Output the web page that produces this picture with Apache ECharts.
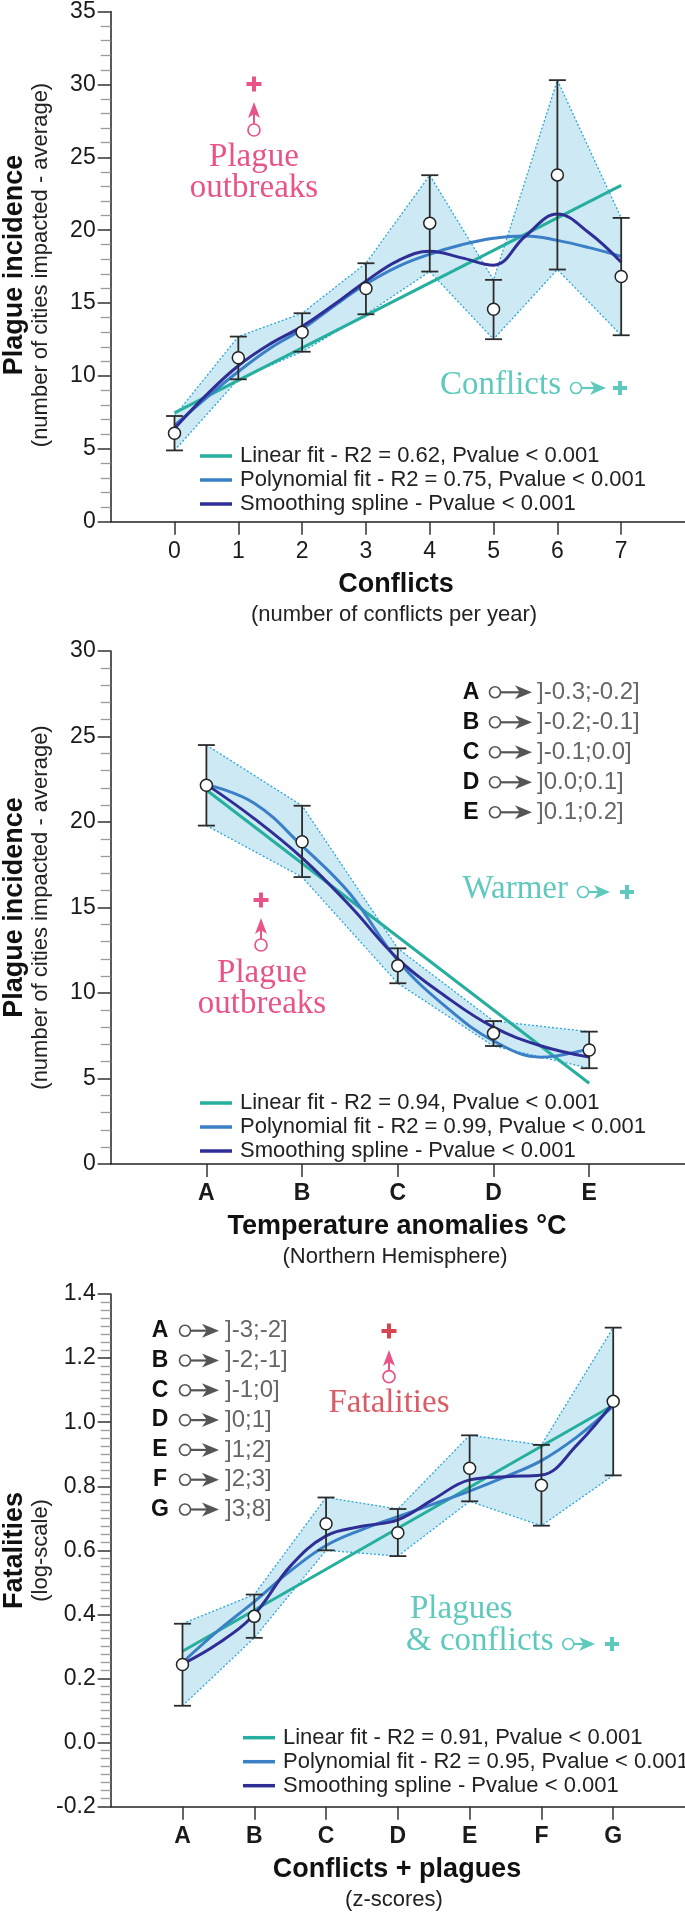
<!DOCTYPE html>
<html><head><meta charset="utf-8">
<script src="https://cdn.jsdelivr.net/npm/echarts@6/dist/echarts.min.js"></script>
<style>html,body{margin:0;padding:0;background:#fff}#c{width:685px;height:1912px}</style>
</head><body><div id="c"></div>
<script>
// ---------------- DATA ----------------
// Panel 1: conflicts
const conflictsX = [0, 1, 2, 3, 4, 5, 6, 7];
const conflictsMean = [6.07, 11.25, 13.0, 16.0, 20.48, 14.57, 23.79, 16.82];
const conflictsUpper = [7.25, 12.7, 14.3, 17.73, 23.77, 16.59, 30.29, 20.84];
const conflictsLower = [4.89, 9.77, 11.66, 14.23, 17.16, 12.52, 17.3, 12.79];
const conflictsLinX = [0, 7];
const conflictsLinY = [7.46, 23.07];
const conflictsFitX = [0, 0.5, 1, 1.5, 2, 2.5, 3, 3.5, 4, 4.5, 5, 5.5, 6, 6.5, 7];
const conflictsPoly = [6.6, 8.5, 10.3, 11.9, 13.2, 14.8, 16.3, 17.5, 18.35, 19.0, 19.45, 19.6, 19.3, 18.8, 18.2];
const conflictsSpline = [6.4, 8.7, 10.7, 12.2, 13.4, 14.9, 16.5, 17.9, 18.55, 18.1, 17.6, 19.6, 21.1, 19.8, 17.8];
const conflictsNames = ['Linear fit - R2 = 0.62, Pvalue < 0.001', 'Polynomial fit - R2 = 0.75, Pvalue < 0.001', 'Smoothing spline - Pvalue < 0.001'];

// Panel 2: temperature anomalies
const tempCats = ['A', 'B', 'C', 'D', 'E'];
const tempIntervals = [']-0.3;-0.2]', ']-0.2;-0.1]', ']-0.1;0.0]', ']0.0;0.1]', ']0.1;0.2]'];
const tempX = [0, 1, 2, 3, 4];
const tempMean = [22.15, 18.85, 11.6, 7.64, 6.67];
const tempUpper = [24.5, 20.95, 12.61, 8.36, 7.74];
const tempLower = [19.79, 16.78, 10.57, 6.9, 5.6];
const tempLinX = [0, 4];
const tempLinY = [21.87, 4.72];
const tempFitX = [0, 0.5, 1, 1.5, 2, 2.5, 3, 3.5, 4];
const tempPoly = [22.2, 21.1, 18.6, 15.8, 11.9, 9.2, 7.2, 6.25, 6.75];
const tempSpline = [22.2, 20.2, 17.9, 15.1, 12.0, 9.8, 8.0, 6.9, 6.25];
const tempNames = ['Linear fit - R2 = 0.94, Pvalue < 0.001', 'Polynomial fit - R2 = 0.99, Pvalue < 0.001', 'Smoothing spline - Pvalue < 0.001'];

// Panel 3: conflicts + plagues (z-scores)
const zCats = ['A', 'B', 'C', 'D', 'E', 'F', 'G'];
const zIntervals = [']-3;-2]', ']-2;-1]', ']-1;0]', ']0;1]', ']1;2]', ']2;3]', ']3;8]'];
const zX = [0, 1, 2, 3, 4, 5, 6];
const zMean = [0.244, 0.394, 0.683, 0.655, 0.856, 0.803, 1.065];
const zUpper = [0.371, 0.462, 0.765, 0.729, 0.959, 0.929, 1.295];
const zLower = [0.115, 0.327, 0.600, 0.582, 0.753, 0.677, 0.834];
const zLinX = [0, 6];
const zLinY = [0.285, 1.053];
const zFitX = [0, 0.5, 1, 1.5, 2, 2.5, 3, 3.5, 4, 4.5, 5, 5.5, 6];
const zPoly = [0.25, 0.35, 0.44, 0.535, 0.615, 0.665, 0.705, 0.745, 0.785, 0.83, 0.88, 0.955, 1.05];
const zSpline = [0.245, 0.31, 0.40, 0.55, 0.645, 0.675, 0.695, 0.76, 0.82, 0.83, 0.835, 0.93, 1.06];
const zNames = ['Linear fit - R2 = 0.91, Pvalue < 0.001', 'Polynomial fit - R2 = 0.95, Pvalue < 0.001', 'Smoothing spline - Pvalue < 0.001'];

// Axis titles
const axisTitles = [
  { x: 'Conflicts', xSub: '(number of conflicts per year)', y: 'Plague incidence', ySub: '(number of cities impacted - average)' },
  { x: 'Temperature anomalies °C', xSub: '(Northern Hemisphere)', y: 'Plague incidence', ySub: '(number of cities impacted - average)' },
  { x: 'Conflicts + plagues', xSub: '(z-scores)', y: 'Fatalities', ySub: '(log-scale)' }
];

// ---------------- STYLE ----------------
const FONT = "'Liberation Sans', Arial, Helvetica, sans-serif";
const SERIF = "'Liberation Serif', 'Times New Roman', serif";
const LIN = '#26ae9e', POLY = '#3b7fc6', SPL = '#2f2d96';
const BAND = '#cdeaf4', BANDEDGE = '#2aa6dd';
const PINK = '#e8548a', TEAL = '#5fc9be', REDTXT = '#d95d66', REDPLUS = '#d9454f';
const GREY = '#666', AX = '#222';

function panelSeries(gi, xs, mean, upper, lower, linX, linY, fitX, poly, spline, names) {
  return [
    { type: 'custom', xAxisIndex: gi, yAxisIndex: gi, z: 1, silent: true,
      data: [[xs[0], upper[0]]],
      renderItem: function (params, api) {
        const up = xs.map((x, i) => api.coord([x, upper[i]]));
        const lo = xs.map((x, i) => api.coord([x, lower[i]]));
        const pts = up.concat(lo.slice().reverse());
        return { type: 'group', children: [
          { type: 'polygon', shape: { points: pts }, style: { fill: BAND } },
          { type: 'polyline', shape: { points: up }, style: { fill: null, stroke: BANDEDGE, lineWidth: 1.3, lineDash: [2, 2] } },
          { type: 'polyline', shape: { points: lo }, style: { fill: null, stroke: BANDEDGE, lineWidth: 1.3, lineDash: [2, 2] } }
        ] };
      } },
    { type: 'line', name: names[0], xAxisIndex: gi, yAxisIndex: gi, z: 3, showSymbol: false, silent: true,
      data: linX.map((x, i) => [x, linY[i]]), lineStyle: { color: LIN, width: 3 }, itemStyle: { color: LIN } },
    { type: 'line', name: names[1], xAxisIndex: gi, yAxisIndex: gi, z: 3, showSymbol: false, silent: true, smooth: 0.4,
      data: fitX.map((x, i) => [x, poly[i]]), lineStyle: { color: POLY, width: 3 }, itemStyle: { color: POLY } },
    { type: 'line', name: names[2], xAxisIndex: gi, yAxisIndex: gi, z: 3, showSymbol: false, silent: true, smooth: 0.4,
      data: fitX.map((x, i) => [x, spline[i]]), lineStyle: { color: SPL, width: 3 }, itemStyle: { color: SPL } },
    { type: 'custom', xAxisIndex: gi, yAxisIndex: gi, z: 4, silent: true,
      data: xs.map((x, i) => [x, lower[i], upper[i]]),
      encode: { x: 0, y: [1, 2] },
      renderItem: function (params, api) {
        const x = api.value(0);
        const lo = api.coord([x, api.value(1)]);
        const hi = api.coord([x, api.value(2)]);
        const w = 8.5, st = { stroke: '#2b2b2b', lineWidth: 1.8 };
        return { type: 'group', children: [
          { type: 'line', shape: { x1: lo[0], y1: lo[1], x2: hi[0], y2: hi[1] }, style: st },
          { type: 'line', shape: { x1: lo[0] - w, y1: lo[1], x2: lo[0] + w, y2: lo[1] }, style: st },
          { type: 'line', shape: { x1: hi[0] - w, y1: hi[1], x2: hi[0] + w, y2: hi[1] }, style: st }
        ] };
      } },
    { type: 'scatter', xAxisIndex: gi, yAxisIndex: gi, z: 5, silent: true, symbolSize: 12,
      data: xs.map((x, i) => [x, mean[i]]),
      itemStyle: { color: '#fff', borderColor: '#222', borderWidth: 1.5, opacity: 1 } }
  ];
}

function xAxisDef(gi, min, max, ticks, fmt, bold) {
  return {
    gridIndex: gi, type: 'value', min: min, max: max, interval: 1,
    axisLine: { show: true, onZero: false, lineStyle: { color: AX, width: 1.5 } },
    axisTick: { show: true, length: 13, customValues: ticks, lineStyle: { color: '#333', width: 1.5 } },
    axisLabel: { customValues: ticks, formatter: fmt, margin: 18, fontSize: 23, fontFamily: FONT,
      fontWeight: bold ? 'bold' : 'normal', color: '#1a1a1a' },
    splitLine: { show: false }
  };
}
function yAxisDef(gi, min, max, interval, minorSplit, fmt) {
  return {
    gridIndex: gi, type: 'value', min: min, max: max, interval: interval,
    axisLine: { show: true, onZero: false, lineStyle: { color: AX, width: 1.5 } },
    axisTick: { show: true, length: 13, lineStyle: { color: '#333', width: 1.5 } },
    minorTick: { show: true, splitNumber: minorSplit, length: 10, lineStyle: { color: '#9a9a9a', width: 1.3 } },
    axisLabel: { formatter: fmt, margin: 15, fontSize: 23, fontFamily: FONT, color: '#1a1a1a' },
    splitLine: { show: false }, minorSplitLine: { show: false }
  };
}
function legendDef(left, top, names) {
  return { left: left, top: top, orient: 'vertical', itemWidth: 32, itemHeight: 3.5, itemGap: 0,
    selectedMode: false, textStyle: { fontSize: 22, lineHeight: 24, fontFamily: FONT, color: '#222', padding: [0, 0, 0, 3] },
    data: names.map(n => ({ name: n, icon: 'rect' })) };
}

// ---------- annotation helpers (graphic) ----------
const G = [];
function plus(x, y, s, w, color) {
  G.push({ type: 'rect', shape: { x: x - s / 2, y: y - w / 2, width: s, height: w }, style: { fill: color }, silent: true });
  G.push({ type: 'rect', shape: { x: x - w / 2, y: y - s / 2, width: w, height: s }, style: { fill: color }, silent: true });
}
function arrowUp(x, yc, ytip, color) {
  G.push({ type: 'circle', shape: { cx: x, cy: yc, r: 6 }, style: { fill: '#fff', stroke: color, lineWidth: 1.7 }, silent: true });
  G.push({ type: 'line', shape: { x1: x, y1: yc - 6, x2: x, y2: ytip + 9 }, style: { stroke: color, lineWidth: 2 }, silent: true });
  G.push({ type: 'polygon', shape: { points: [[x, ytip], [x + 6, ytip + 16], [x, ytip + 12], [x - 6, ytip + 16]] }, style: { fill: color }, silent: true });
}
function arrowRight(xc, y, xtip, color, r, hl, hh) {
  hl = hl || 15; hh = hh || 6.5;
  G.push({ type: 'circle', shape: { cx: xc, cy: y, r: r }, style: { fill: '#fff', stroke: color, lineWidth: 1.6 }, silent: true });
  G.push({ type: 'line', shape: { x1: xc + r, y1: y, x2: xtip - 8, y2: y }, style: { stroke: color, lineWidth: 2.2 }, silent: true });
  G.push({ type: 'polygon', shape: { points: [[xtip, y], [xtip - hl, y - hh], [xtip - hl * 0.72, y], [xtip - hl, y + hh]] }, style: { fill: color }, silent: true });
}
function txt(x, y, s, font, color, align, rot) {
  G.push({ type: 'text', x: x, y: y, rotation: rot || 0, silent: true,
    style: { text: s, font: font, fill: color, align: align || 'center', verticalAlign: 'middle' } });
}

// Axis titles (x: below axis; y: rotated at left)
const xTitlePos = [[396, 585, 394, 615], [397, 1226.7, 395, 1256.7], [397, 1870, 394, 1900]];
const yTitleMid = [265, 907.5, 1550.4];
axisTitles.forEach((t, i) => {
  const p = xTitlePos[i];
  txt(p[0], p[1], t.x, 'bold 27px ' + FONT, '#111');
  txt(p[2], p[3], t.xSub, '22px ' + FONT, '#222');
  txt(14.5, yTitleMid[i], t.y, 'bold 27px ' + FONT, '#111', 'center', Math.PI / 2);
  txt(41, yTitleMid[i], t.ySub, '22px ' + FONT, '#222', 'center', Math.PI / 2);
});

// Panel 1 annotations
plus(254, 84, 15, 4, PINK);
arrowUp(254, 130, 102, PINK);
txt(254, 157, 'Plague', '33px ' + SERIF, PINK);
txt(254, 188, 'outbreaks', '33px ' + SERIF, PINK);
txt(561, 385, 'Conflicts', '33px ' + SERIF, TEAL, 'right');
arrowRight(576, 388, 606, TEAL, 5.5, 16, 7);
plus(620, 388, 14, 4, TEAL);

// Panel 2 annotations
plus(261, 900, 15, 4, PINK);
arrowUp(261, 945, 918, PINK);
txt(262, 973, 'Plague', '33px ' + SERIF, PINK);
txt(262, 1004.5, 'outbreaks', '33px ' + SERIF, PINK);
txt(568, 889, 'Warmer', '33px ' + SERIF, TEAL, 'right');
arrowRight(583, 892, 610, TEAL, 5.5, 16, 7);
plus(627, 892, 14, 4, TEAL);
tempCats.forEach((c, i) => {
  const y = 692.3 + i * 30;
  txt(471, y, c, 'bold 23px ' + FONT, '#111');
  arrowRight(495, y, 532, '#555', 5.5, 17, 7);
  txt(537, y, tempIntervals[i], '24px ' + FONT, GREY, 'left');
});

// Panel 3 annotations
plus(389, 1331, 15, 4, REDPLUS);
arrowUp(389, 1376.7, 1350, PINK);
txt(389, 1403.3, 'Fatalities', '33px ' + SERIF, REDTXT);
txt(410, 1609, 'Plagues', '33px ' + SERIF, TEAL, 'left');
txt(406, 1641, '& conflicts', '33px ' + SERIF, TEAL, 'left');
arrowRight(568.3, 1644, 595, TEAL, 5.5, 16, 7);
plus(612, 1644, 14, 4, TEAL);
zCats.forEach((c, i) => {
  const y = 1330.7 + i * 29.8;
  txt(160, y, c, 'bold 23px ' + FONT, '#111');
  arrowRight(185, y, 219, '#555', 5.5, 17, 7);
  txt(225, y, zIntervals[i], '24px ' + FONT, GREY, 'left');
});

const option = {
  animation: false,
  backgroundColor: '#fff',
  grid: [
    { left: 110.7, top: 8.4, width: 580.5, height: 513.3 },
    { left: 110.7, top: 651, width: 574.2, height: 513 },
    { left: 110.7, top: 1294, width: 574.4, height: 512.7 }
  ],
  xAxis: [
    xAxisDef(0, -1, 8, conflictsX, v => String(v), false),
    xAxisDef(1, -1, 5, tempX, v => tempCats[v] || '', true),
    xAxisDef(2, -1, 7, zX, v => zCats[v] || '', true)
  ],
  yAxis: [
    yAxisDef(0, 0, 35, 5, 5, v => String(v)),
    yAxisDef(1, 0, 30, 5, 5, v => String(v)),
    yAxisDef(2, -0.2, 1.4, 0.2, 8, v => v.toFixed(1))
  ],
  legend: [
    legendDef(195, 439, conflictsNames),
    legendDef(195, 1086, tempNames),
    legendDef(238, 1720.7, zNames)
  ],
  series: [].concat(
    panelSeries(0, conflictsX, conflictsMean, conflictsUpper, conflictsLower, conflictsLinX, conflictsLinY, conflictsFitX, conflictsPoly, conflictsSpline, conflictsNames),
    panelSeries(1, tempX, tempMean, tempUpper, tempLower, tempLinX, tempLinY, tempFitX, tempPoly, tempSpline, tempNames),
    panelSeries(2, zX, zMean, zUpper, zLower, zLinX, zLinY, zFitX, zPoly, zSpline, zNames)
  ),
  graphic: G
};
const chart = echarts.init(document.getElementById('c'), null, { renderer: 'canvas', width: 685, height: 1912 });
chart.setOption(option);
</script>
</body></html>
